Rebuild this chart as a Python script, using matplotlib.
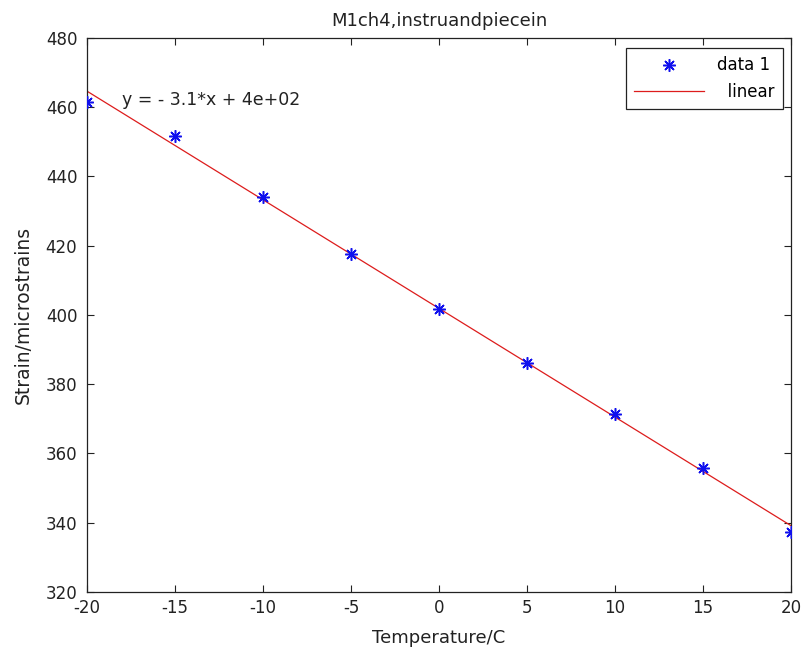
import numpy as np
import matplotlib
matplotlib.use("Agg")
import matplotlib.pyplot as plt

temperature = [-20, -15, -10, -5, 0, 5, 10, 15, 20]
strain = [461.5, 451.7, 434.0, 417.6, 401.7, 386.1, 371.4, 355.8, 337.3]
x_ticks = [-20, -15, -10, -5, 0, 5, 10, 15, 20]
y_ticks = [320, 340, 360, 380, 400, 420, 440, 460, 480]

plt.rcParams['font.family'] = ['DejaVu Sans']
plt.rcParams['axes.unicode_minus'] = False

fig = plt.figure(figsize=(8.05, 6.55), dpi=100)
W, H = 805, 655
ax = fig.add_axes([87 / W, 1 - 592 / H, (791 - 87) / W, (592 - 38) / H])

coef = np.polyfit(temperature, strain, 1)
xl = np.array([temperature[0], temperature[-1]])
ax.plot(temperature, strain, linestyle='none', marker=(8, 2, 0), color='#1010ee',
        markersize=9, markeredgewidth=1.1, label='data 1', zorder=3)
ax.plot(xl, np.polyval(coef, xl), '-', color='#dd1c1c', linewidth=0.9,
        label='  linear', zorder=2)

ax.set_xlim(-20, 20)
ax.set_ylim(320, 480)
ax.set_xticks(x_ticks)
ax.set_yticks(y_ticks)
ax.tick_params(direction='in', top=True, right=True, length=5, width=0.8,
               labelsize=12, colors='#222222')
ax.tick_params(axis='x', pad=5)
ax.tick_params(axis='y', pad=7)
for s in ax.spines.values():
    s.set_linewidth(0.9)
    s.set_color('#222222')

ax.text(-18.0, 462, 'y = - 3.1*x + 4e+02', fontsize=12.5, va='center', ha='left',
        color='#222222')

ax.set_title('M1ch4,instruandpiecein', fontsize=13, pad=9, color='#222222')
ax.set_xlabel('Temperature/C', fontsize=13, labelpad=9, color='#222222')
ax.set_ylabel('Strain/microstrains', fontsize=13.5, labelpad=9, color='#222222')

leg = ax.legend(loc='upper right', bbox_to_anchor=((783 - 87) / 704, 1 - (48 - 38) / 554),
                borderaxespad=0, fancybox=False, edgecolor='#222222', framealpha=1,
                fontsize=12, handlelength=4.2, handletextpad=0.8, borderpad=0.5,
                labelspacing=0.5)
leg.get_frame().set_linewidth(0.9)

fig.savefig('out.png', dpi=100, facecolor='white')
